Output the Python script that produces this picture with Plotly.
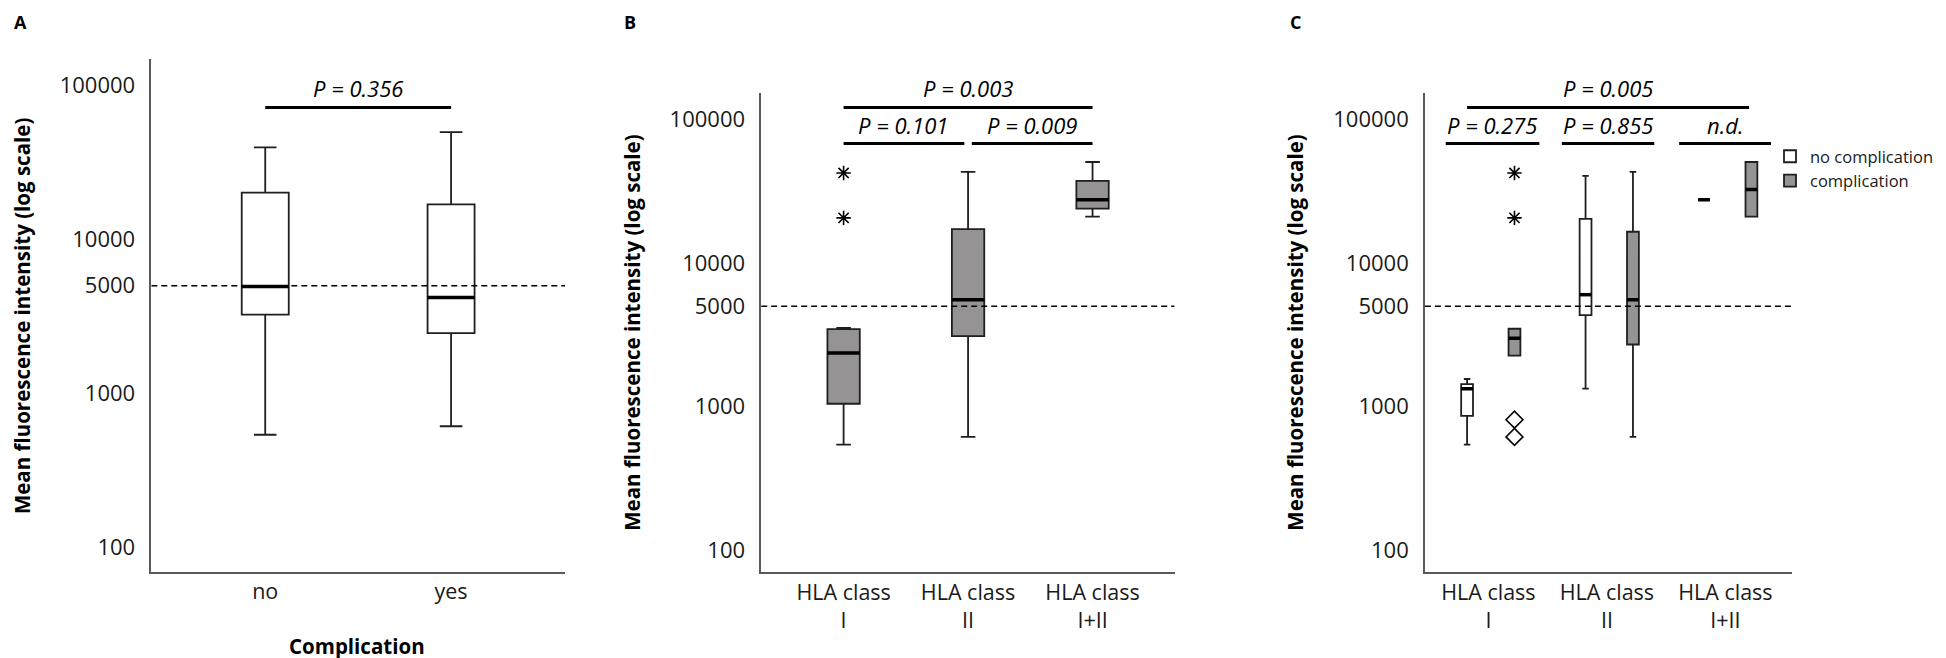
import numpy as np
import plotly.graph_objects as go

FONT = 'Open Sans, DejaVu Sans, sans-serif'
GREY = '#959393'
EDGE = '#1f1f1f'
AXIS = '#595959'
W, H = 1946, 658

# Panel A: MFI by complication (box statistics)
A_CATS = ['no', 'yes']
A_LOW = [538, 611]
A_Q1 = [3245, 2460]
A_MED = [4950, 4200]
A_Q3 = [20180, 16900]
A_HIGH = [39700, 49800]

# Panel B: MFI by HLA class
B_CATS = ['HLA class<br>I', 'HLA class<br>II', 'HLA class<br>I+II']
B_LOW = [546, 617, 21000]
B_Q1 = [1050, 3100, 23900]
B_MED = [2365, 5550, 27500]
B_Q3 = [3470, 17180, 37200]
B_HIGH = [3540, 43100, 50400]
B_STARS = [42300, 20600]  # extreme values, HLA class I

# Panel C: MFI by HLA class and complication
C_CATS = B_CATS
C_NO_LOW = [546, 1337, 27500]
C_NO_Q1 = [863, 4340, 27500]
C_NO_MED = [1337, 6020, 27500]
C_NO_Q3 = [1438, 20300, 27500]
C_NO_HIGH = [1560, 40400, 27500]
C_YES_LOW = [2270, 617, 21000]
C_YES_Q1 = [2270, 2710, 21000]
C_YES_MED = [2995, 5550, 32500]
C_YES_Q3 = [3490, 16500, 50400]
C_YES_HIGH = [3490, 43100, 50400]
C_STARS = [42300, 20600]     # extreme values, complication / class I
C_DIAMONDS = [813, 617]      # outliers, complication / class I

CUTOFF = 5000
Y_TICKS = [100, 1000, 5000, 10000, 100000]


def px_x(p):
    return p / W


def px_y(p):
    return 1 - p / H


def box(xs, low, q1, med, q3, high, fill, width, whisk, ax, name='', legend=False):
    return go.Box(
        x=xs, lowerfence=low, q1=q1, median=med, q3=q3, upperfence=high,
        width=width, whiskerwidth=whisk, fillcolor=fill,
        line=dict(color=EDGE, width=1.8), boxpoints=False,
        name=name, showlegend=legend, hoverinfo='skip',
        xaxis='x' + ax, yaxis='y' + ax,
    )


def medians(xs, med, width, ax):
    # thicker median bars drawn over the boxes
    x, y = [], []
    for c, m in zip(xs, med):
        x += [c - width / 2, c + width / 2, None]
        y += [m, m, None]
    return go.Scatter(x=x, y=y, mode='lines', line=dict(color='black', width=3.5),
                      showlegend=False, hoverinfo='skip', xaxis='x' + ax, yaxis='y' + ax)


def cutoff(xr, ax):
    return go.Scatter(x=list(xr), y=[CUTOFF, CUTOFF], mode='lines',
                      line=dict(color='black', width=1.6, dash='6px,4px'),
                      showlegend=False, hoverinfo='skip', xaxis='x' + ax, yaxis='y' + ax)


def outliers(xpos, vals, symbol, size, ax):
    return go.Scatter(x=[xpos] * len(vals), y=vals, mode='markers',
                      marker=dict(symbol=symbol, size=size, color='black',
                                  line=dict(color='black', width=1.6)),
                      showlegend=False, hoverinfo='skip', xaxis='x' + ax, yaxis='y' + ax)


fig = go.Figure()

# ---- Panel A
xa_range = [-0.613, 1.613]
a_pos = list(range(len(A_CATS)))
fig.add_trace(cutoff(xa_range, ''))
fig.add_trace(box(a_pos, A_LOW, A_Q1, A_MED, A_Q3, A_HIGH, 'white', 0.253, 0.48, ''))
fig.add_trace(medians(a_pos, A_MED, 0.253, ''))

# ---- Panel B
xb_range = [-0.662, 2.66]
b_pos = list(range(len(B_CATS)))
fig.add_trace(cutoff(xb_range, '2'))
fig.add_trace(box(b_pos, B_LOW, B_Q1, B_MED, B_Q3, B_HIGH, GREY, 0.26, 0.45, '2'))
fig.add_trace(medians(b_pos, B_MED, 0.26, '2'))
fig.add_trace(outliers(b_pos[0], B_STARS, 'asterisk-open', 12, '2'))

# ---- Panel C
xc_range = [-0.536, 2.565]
c_pos = np.arange(len(C_CATS))
no_pos = [float(v) for v in c_pos - 0.18]
yes_pos = [float(v) for v in c_pos + 0.22]
fig.add_trace(cutoff(xc_range, '3'))
fig.add_trace(box(no_pos, C_NO_LOW, C_NO_Q1, C_NO_MED, C_NO_Q3, C_NO_HIGH, 'white', 0.1, 0.55, '3',
                  'no complication', True))
fig.add_trace(box(yes_pos, C_YES_LOW, C_YES_Q1, C_YES_MED, C_YES_Q3, C_YES_HIGH, GREY, 0.1, 0.55, '3',
                  'complication', True))
fig.add_trace(medians(no_pos, C_NO_MED, 0.1, '3'))
fig.add_trace(medians(yes_pos, C_YES_MED, 0.1, '3'))
fig.add_trace(outliers(yes_pos[0], C_STARS, 'asterisk-open', 12, '3'))
fig.add_trace(outliers(yes_pos[0], C_DIAMONDS, 'diamond-open', 13, '3'))


def yaxis(domain, rng, anchor):
    return dict(type='log', range=rng, domain=domain, anchor=anchor,
                tickmode='array', tickvals=Y_TICKS, ticktext=[str(v) for v in Y_TICKS],
                showgrid=False, zeroline=False, showline=True, linecolor=AXIS, linewidth=1.5,
                ticks='', ticklabelstandoff=10,
                tickfont=dict(family=FONT, size=22, color='#1a1a1a'))


def xaxis(domain, rng, cats, anchor):
    return dict(range=rng, domain=domain, anchor=anchor,
                tickmode='array', tickvals=list(range(len(cats))), ticktext=cats,
                showgrid=False, zeroline=False, showline=True, linecolor=AXIS, linewidth=1.5,
                ticks='', ticklabelstandoff=0,
                tickfont=dict(family=FONT, size=21.5, color='#1a1a1a'))


fig.update_layout(
    width=W, height=H,
    margin=dict(l=0, r=0, t=0, b=0),
    paper_bgcolor='white', plot_bgcolor='white',
    boxmode='overlay',
    xaxis=xaxis([px_x(143.3), px_x(557)], xa_range, A_CATS, 'y'),
    yaxis=yaxis([px_y(563.6), px_y(51.2)], [1.8415, 5.1715], 'x'),
    xaxis2=xaxis([px_x(753.2), px_x(1166.7)], xb_range, B_CATS, 'y2'),
    yaxis2=yaxis([px_y(564.4), px_y(85.2)], [1.848, 5.181], 'x2'),
    xaxis3=xaxis([px_x(1416.9), px_x(1784.3)], xc_range, C_CATS, 'y3'),
    yaxis3=yaxis([px_y(564.4), px_y(85.2)], [1.848, 5.181], 'x3'),
    legend=dict(x=px_x(1762), y=px_y(131), xanchor='left', yanchor='top',
                font=dict(family=FONT, size=16.5, color='#1a1a1a'),
                bgcolor='rgba(0,0,0,0)', traceorder='normal'),
)

# significance brackets: (x axis, x0, x1, pixel y of line, text, text x)
brackets = [
    ('x', 0, 1, 99.5, 'P = 0.356', 0.5),
    ('x2', 0, 2, 99.5, 'P = 0.003', 1),
    ('x2', 0, 0.97, 135.5, 'P = 0.101', 0.475),
    ('x2', 1.03, 2, 135.5, 'P = 0.009', 1.51),
    ('x3', -0.18, 2.2, 99.5, 'P = 0.005', 1.01),
    ('x3', -0.36, 0.43, 135.5, 'P = 0.275', 0.03),
    ('x3', 0.62, 1.4, 135.5, 'P = 0.855', 1.01),
    ('x3', 1.61, 2.385, 135.5, 'n.d.', 2.0),
]
for xref, x0, x1, ypx, label, tx in brackets:
    fig.add_shape(type='line', xref=xref, yref='paper', x0=x0, x1=x1,
                  y0=px_y(ypx), y1=px_y(ypx), line=dict(color='black', width=2.8))
    fig.add_annotation(xref=xref, yref='paper', x=tx, y=px_y(ypx - 2), text='<i>' + label + '</i>',
                       showarrow=False, xanchor='center', yanchor='bottom',
                       font=dict(family=FONT, size=22, color='black'))

# y axis titles
for xpx, ypx in [(13.3, 307.8), (624.6, 324.2), (1287.5, 324.2)]:
    fig.add_annotation(xref='paper', yref='paper', x=px_x(xpx), y=px_y(ypx),
                       text='<b>Mean fluorescence intensity (log scale)</b>', textangle=-90,
                       showarrow=False, xanchor='center', yanchor='middle',
                       font=dict(family=FONT, size=20.5, color='black'))

# x axis title, panel A
fig.add_annotation(xref='paper', yref='paper', x=px_x(349), y=px_y(638),
                   text='<b>Complication</b>', showarrow=False, xanchor='center', yanchor='middle',
                   font=dict(family=FONT, size=20.5, color='black'))

# panel letters
for letter, xpx in [('A', 12), ('B', 622), ('C', 1287.5)]:
    fig.add_annotation(xref='paper', yref='paper', x=px_x(xpx), y=1,
                       text='<b>' + letter + '</b>', showarrow=False,
                       xanchor='center', yanchor='top',
                       font=dict(family=FONT, size=18, color='black'))

fig.write_html("out.html")
